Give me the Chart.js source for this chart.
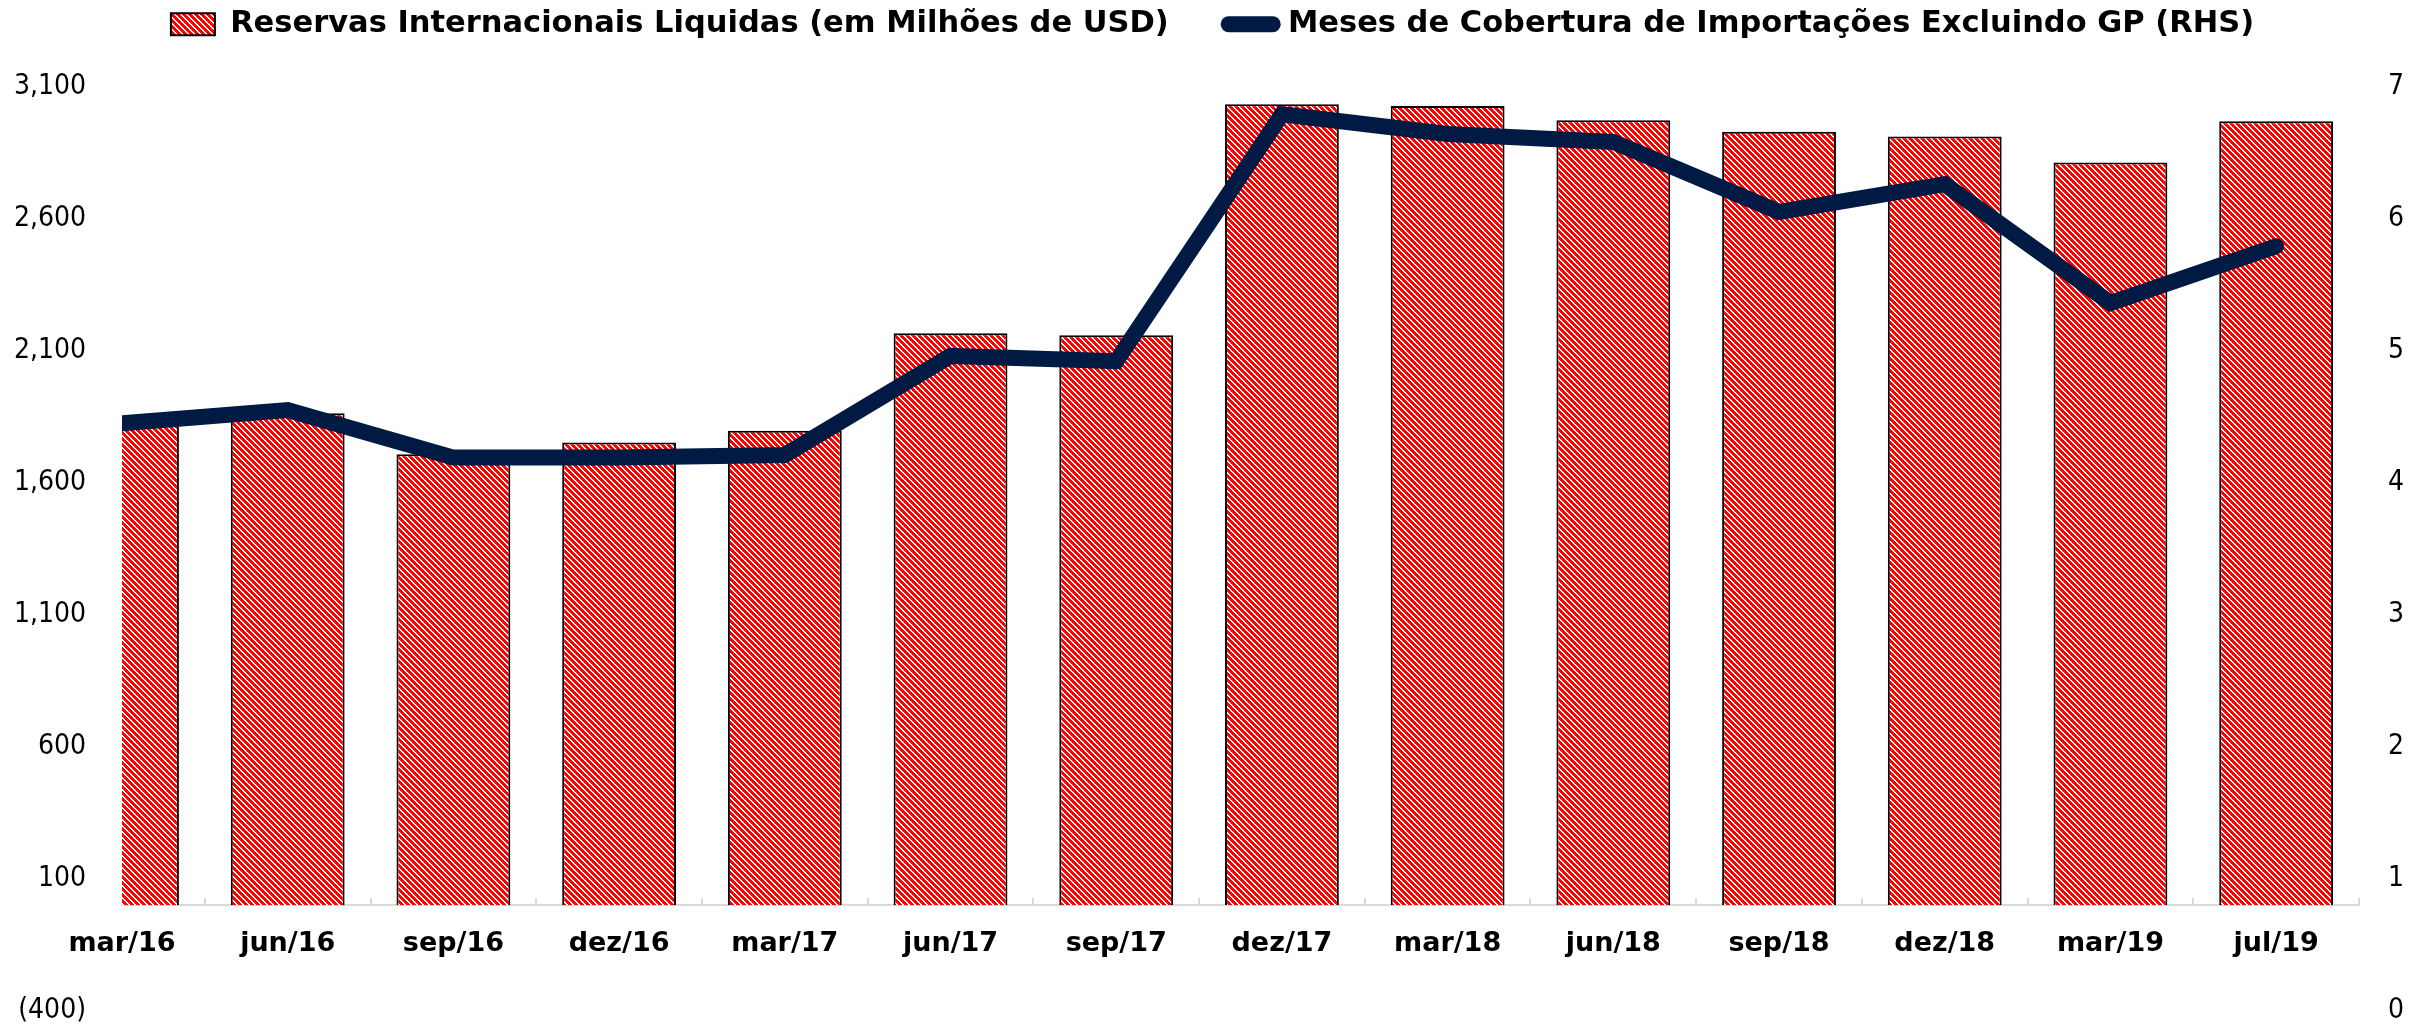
<!DOCTYPE html>
<html>
<head>
<meta charset="utf-8">
<script src="https://cdn.jsdelivr.net/npm/chart.js@4.4.1/dist/chart.umd.min.js"></script>
<style>
  html, body { margin: 0; padding: 0; background: #fff; }
  #wrap { width: 2425px; height: 1027px; position: relative; }
</style>
</head>
<body>
<div id="wrap"><canvas id="grafico"></canvas></div>
<script>
// ===== DADOS =====
const periodos = ['mar/16','jun/16','sep/16','dez/16','mar/17','jun/17','sep/17','dez/17','mar/18','jun/18','sep/18','dez/18','mar/19','jul/19']
const reservas = [1830, 1863, 1708, 1752, 1797, 2166, 2158, 3033, 3026, 2972, 2929, 2911, 2812, 2968]
const mesesCobertura = [4.45, 4.55, 4.19, 4.19, 4.21, 4.96, 4.92, 6.79, 6.64, 6.58, 6.05, 6.26, 5.36, 5.79]
const nomeReservas = 'Reservas Internacionais Liquidas (em Milhões de USD)'
const nomeMeses = 'Meses de Cobertura de Importações Excluindo GP (RHS)'

const azul = '#001A43'
const fonteEixo = "'DejaVu Sans Condensed', 'DejaVu Sans', sans-serif"
const fonteBold = "'DejaVu Sans', sans-serif"

const canvas = document.getElementById('grafico')
const ctx = canvas.getContext('2d')

// hachurado vermelho/branco (diagonal descendente)
function criarHachura() {
    const n = 6
    const c = document.createElement('canvas')
    c.width = n
    c.height = n
    const g = c.getContext('2d')
    const img = g.createImageData(n, n)
    for (let y = 0; y < n; y++) {
        for (let x = 0; x < n; x++) {
            const vermelho = ((x - y + 2 * n) % n) < 4
            const k = (y * n + x) * 4
            img.data[k] = 255
            img.data[k + 1] = vermelho ? 0 : 255
            img.data[k + 2] = vermelho ? 0 : 255
            img.data[k + 3] = 255
        }
    }
    g.putImageData(img, 0, 0)
    return ctx.createPattern(c, 'repeat')
}
const hachura = criarHachura()

// espaço extra entre a legenda e o gráfico
const folgaLegenda = {
    id: 'folgaLegenda',
    beforeLayout(chart) {
        const lg = chart.legend
        if (!lg || lg._folga) return
        const fit = lg.fit.bind(lg)
        lg.fit = function() { fit(); this.height += 37 }
        lg._folga = true
    }
}

const fmt = v => {
    const s = Math.abs(v).toLocaleString('en-US')
    return v < 0 ? '(' + s + ')' : s
}

// eixos verticais: largura fixa e sem folga extra em cima/embaixo
const larguraFixa = w => s => {
    s.width = w
    s.paddingTop = 0
    s.paddingBottom = 0
}

new Chart(canvas, {
    data: {
        datasets: [{
            type: 'bar',
            label: nomeReservas,
            data: reservas.map((v, i) => ({ x: i, y: v })),
            backgroundColor: hachura,
            borderColor: '#000',
            borderWidth: 2,
            categoryPercentage: 1,
            barPercentage: 0.687,
            yAxisID: 'y',
            clip: 0,
            order: 2
        }, {
            type: 'line',
            label: nomeMeses,
            data: mesesCobertura.map((v, i) => ({ x: i, y: v })),
            borderColor: azul,
            backgroundColor: azul,
            borderWidth: 16,
            borderCapStyle: 'round',
            borderJoinStyle: 'miter',
            pointRadius: 0,
            tension: 0,
            yAxisID: 'y1',
            clip: { left: 0, right: false, top: false, bottom: false },
            order: 1
        }]
    },
    options: {
        responsive: true,
        maintainAspectRatio: false,
        animation: false,
        layout: { padding: { top: -51, bottom: 16, left: 0, right: 0 } },
        plugins: {
            tooltip: { enabled: false },
            legend: {
                position: 'top',
                align: 'center',
                labels: {
                    usePointStyle: true,
                    pointStyleWidth: 44,
                    boxHeight: 22,
                    padding: 60,
                    color: '#000',
                    font: { family: fonteBold, size: 30.5, weight: 'bold' },
                    generateLabels: () => [
                        { text: nomeReservas, fillStyle: hachura, strokeStyle: '#000', lineWidth: 2, pointStyle: 'rect', datasetIndex: 0, hidden: false },
                        { text: nomeMeses, fillStyle: azul, strokeStyle: azul, lineWidth: 16, lineCap: 'round', pointStyle: 'line', datasetIndex: 1, hidden: false }
                    ]
                }
            }
        },
        scales: {
            x: {
                type: 'linear',
                position: { y: 0 },
                offset: false,
                min: 0,
                max: 13.5,
                ticks: {
                    stepSize: 1,
                    includeBounds: false,
                    autoSkip: false,
                    maxRotation: 0,
                    padding: 30,
                    color: '#000',
                    font: { family: fonteBold, size: 27, weight: 'bold' },
                    callback: v => periodos[v] ?? ''
                },
                grid: { display: true, drawOnChartArea: false, drawTicks: true, tickLength: -8, offset: true, color: '#d9d9d9', lineWidth: 2 },
                border: { display: true, color: '#d9d9d9', width: 2 }
            },
            y: {
                position: 'left',
                min: -400,
                max: 3100,
                ticks: { stepSize: 500, padding: 36, color: '#000', font: { family: fonteEixo, size: 28 }, callback: v => fmt(v) },
                grid: { display: false, drawTicks: false },
                border: { display: false },
                afterFit: larguraFixa(122)
            },
            y1: {
                position: 'right',
                min: 0,
                max: 7,
                ticks: { stepSize: 1, padding: 29, color: '#000', font: { family: fonteEixo, size: 28 } },
                grid: { display: false, drawTicks: false },
                border: { display: false },
                afterFit: larguraFixa(66)
            }
        }
    },
    plugins: [folgaLegenda]
})
</script>
</body>
</html>
